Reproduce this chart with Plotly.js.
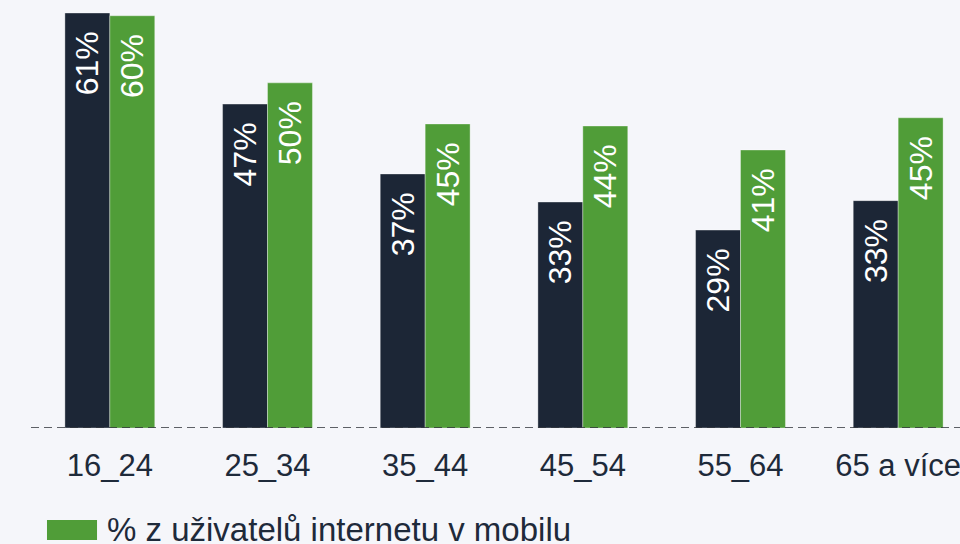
<!DOCTYPE html>
<html>
<head>
<meta charset="utf-8">
<script src="https://cdn.plot.ly/plotly-3.0.1.min.js"></script>
<style>
  html, body { margin: 0; padding: 0; background: #f5f6fa; overflow: hidden; }
  #chart { width: 1000px; height: 544px; }
</style>
</head>
<body>
<div id="chart"></div>
<script>
// age groups
var groups = ['16_24', '25_34', '35_44', '45_54', '55_64', '65 a více'];

// dark series (legend item cut off in the original)
var allUsers = [60.6, 47.3, 37.1, 33.0, 28.9, 33.2];
var allLabels = ['61%', '47%', '37%', '33%', '29%', '33%'];

// green series
var mobileUsers = [60.2, 50.4, 44.4, 44.1, 40.6, 45.3];
var mobileLabels = ['60%', '50%', '45%', '44%', '41%', '45%'];

var legendName = '% z uživatelů internetu v mobilu';

var font = 'Liberation Sans, Arial, sans-serif';
var ink = '#1e2a3a';
var pad = '\u00a0\u2009';

var data = [{
  x: groups,
  y: allUsers,
  text: allLabels.map(function (t) { return t + pad; }),
  type: 'bar',
  name: '',
  showlegend: false,
  marker: {color: '#1c2636', line: {color: 'rgba(255,255,255,0.35)', width: 1}},
  textposition: 'inside',
  insidetextanchor: 'end',
  textangle: -90,
  textfont: {family: font, size: 32, color: '#ffffff'},
  hoverinfo: 'x+y'
}, {
  x: groups,
  y: mobileUsers,
  text: mobileLabels.map(function (t) { return t + pad; }),
  type: 'bar',
  name: legendName,
  showlegend: false,
  marker: {color: '#509d38', line: {color: 'rgba(255,255,255,0.35)', width: 1}},
  textposition: 'inside',
  insidetextanchor: 'end',
  textangle: -90,
  textfont: {family: font, size: 32, color: '#ffffff'},
  hoverinfo: 'x+y'
}];

var layout = {
  width: 1000,
  height: 544,
  margin: {l: 31, r: 23, t: 0, b: 116},
  paper_bgcolor: '#f5f6fa',
  plot_bgcolor: '#f5f6fa',
  barmode: 'group',
  bargap: 0.43,
  bargroupgap: 0,
  showlegend: false,
  font: {family: font, color: ink},
  xaxis: {
    showgrid: false,
    zeroline: false,
    showline: false,
    ticks: '',
    tickfont: {family: font, size: 31, color: ink},
    ticklabelstandoff: 16
  },
  yaxis: {
    range: [0, 62.5],
    showgrid: false,
    zeroline: false,
    showline: false,
    showticklabels: false
  },
  shapes: [
    // dashed baseline
    {type: 'line', xref: 'paper', yref: 'y', x0: 0, x1: 1, y0: 0, y1: 0,
     line: {color: '#2b2f36', width: 1.5, dash: '8px,5px'}, layer: 'above'},
    // legend swatch
    {type: 'rect', xref: 'paper', yref: 'paper', x0: 0.0169, x1: 0.0698, y0: -0.2617, y1: -0.2150,
     fillcolor: '#509d38', line: {width: 0}}
  ],
  annotations: [{
    xref: 'paper', yref: 'paper', x: 0.0782, y: -0.2360,
    xanchor: 'left', yanchor: 'middle', showarrow: false,
    text: legendName,
    font: {family: font, size: 33, color: ink}
  }]
};

Plotly.newPlot('chart', data, layout, {displayModeBar: false});
</script>
</body>
</html>
